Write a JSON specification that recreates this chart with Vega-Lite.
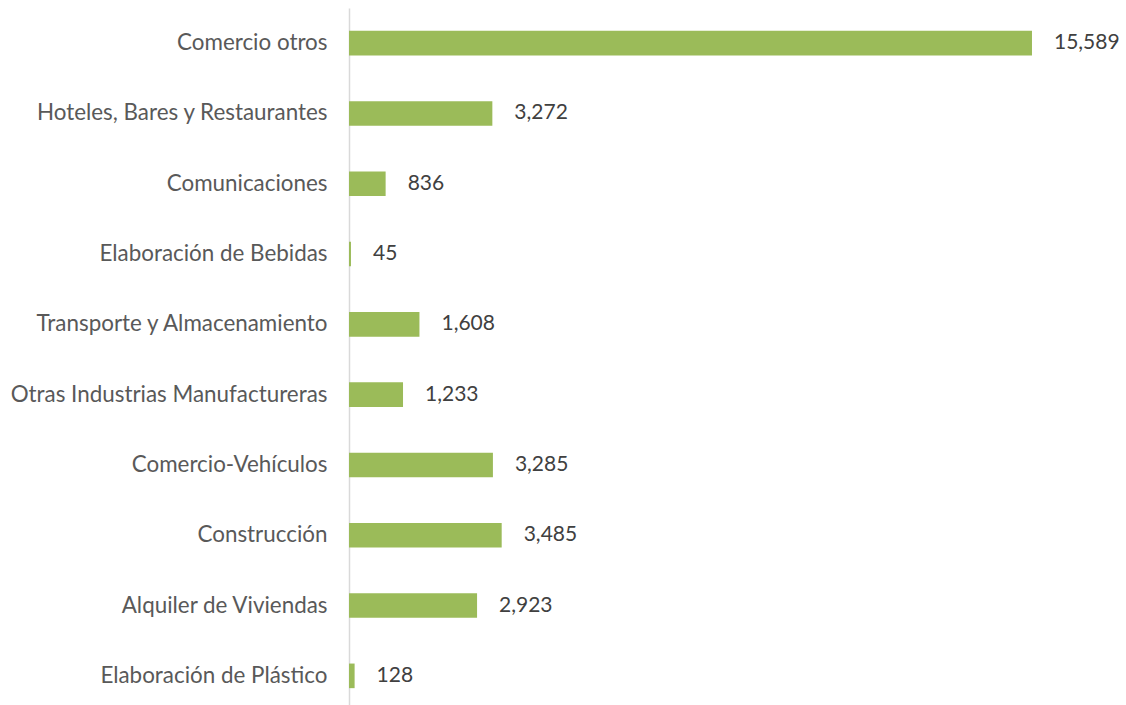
{
  "$schema": "https://vega.github.io/schema/vega-lite/v6.json",
  "width": 777,
  "height": 703,
  "padding": {"left": 349, "top": 8, "right": 0, "bottom": 0},
  "autosize": {"type": "none"},
  "background": "white",
  "config": {"view": {"stroke": null}, "font": "Lato"},
  "data": {"values": [
    {"sector": "Comercio otros", "value": 15589},
    {"sector": "Hoteles, Bares y Restaurantes", "value": 3272},
    {"sector": "Comunicaciones", "value": 836},
    {"sector": "Elaboración de Bebidas", "value": 45},
    {"sector": "Transporte y Almacenamiento", "value": 1608},
    {"sector": "Otras Industrias Manufactureras", "value": 1233},
    {"sector": "Comercio-Vehículos", "value": 3285},
    {"sector": "Construcción", "value": 3485},
    {"sector": "Alquiler de Viviendas", "value": 2923},
    {"sector": "Elaboración de Plástico", "value": 128}
  ]},
  "encoding": {
    "y": {
      "field": "sector", "type": "nominal", "sort": null,
      "scale": {"paddingInner": 0.65, "paddingOuter": 0.325},
      "axis": {"title": null, "ticks": false, "labelPadding": 22, "labelFontSize": 22.4, "labelColor": "#595959", "labelFont": "Lato", "domainColor": "#d9d9d9", "domainWidth": 1.5, "labelLimit": 400}
    },
    "x": {
      "field": "value", "type": "quantitative",
      "scale": {"domain": [0, 17735], "nice": false, "zero": true},
      "axis": null
    }
  },
  "layer": [
    {"mark": {"type": "bar", "color": "#9bbb59"}},
    {"mark": {"type": "text", "align": "left", "baseline": "middle", "dx": 22, "fontSize": 21, "color": "#404040", "font": "Lato"},
     "encoding": {"text": {"field": "value", "type": "quantitative", "format": ","}}}
  ]
}
